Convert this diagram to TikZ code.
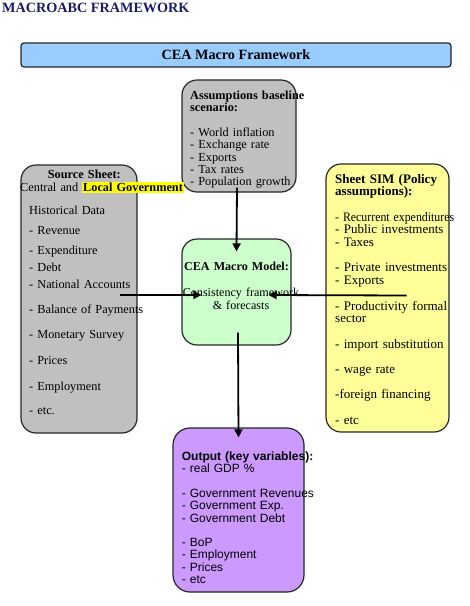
\documentclass[tikz,border=0pt]{standalone}
\usepackage{fontspec}
\setmainfont{Liberation Serif}
\newfontfamily\arialfont{Liberation Sans}
\usetikzlibrary{arrows.meta}

\definecolor{titlenavy}{HTML}{1C1C66}
\definecolor{barblue}{HTML}{99CCFF}
\definecolor{boxgray}{HTML}{C0C0C0}
\definecolor{simyellow}{HTML}{FFFF99}
\definecolor{modelgreen}{HTML}{CCFFCC}
\definecolor{outpurple}{HTML}{CC99FF}
\definecolor{markyellow}{HTML}{FFFF00}

\tikzset{
  panel/.style={draw=black!85, line width=1.2pt, rounded corners=15pt},
  paneltext/.style={anchor=base west, inner sep=0pt, text width=135pt, align=left},
  flow/.style={line width=1.8pt, -{Triangle[length=8pt, width=8pt]}}
}

\begin{document}
\begin{tikzpicture}[x=1pt, y=-1pt, node font=\fontsize{13}{12.7}\selectfont]
  \useasboundingbox (0,0) rectangle (470,606);
  % title and top bar
  \node [anchor=base west, inner sep=0pt, text=titlenavy,
         font=\bfseries\fontsize{14.2}{16}\selectfont]
    (title) at (2,12.7) {MACROABC FRAMEWORK};
  \node [panel, rounded corners=3pt, fill=barblue,
         minimum width=430pt, minimum height=24pt,
         font=\bfseries\fontsize{14.2}{16}\selectfont]
    (frame) at (236,55) {CEA Macro Framework};
  % boxes
  \node [panel, fill=boxgray, minimum width=114pt, minimum height=112pt]
    (assum) at (239,136) {};
  \node [panel, fill=boxgray, minimum width=116pt, minimum height=268pt]
    (source) at (79,299) {};
  \node [panel, fill=simyellow, minimum width=123pt, minimum height=268pt]
    (sim) at (387.5,298) {};
  \node [panel, fill=modelgreen, minimum width=109pt, minimum height=106pt]
    (model) at (236.5,292) {};
  \node [panel, rounded corners=17pt, fill=outpurple,
         minimum width=131pt, minimum height=164pt]
    (output) at (238.5,510) {};
  % texts
  \node [paneltext, font=\fontsize{12.3}{12.3}\selectfont] (assumtxt) at (190,99)
    {\textbf{Assumptions baseline}\\
     \textbf{scenario:}\\[13pt]
     - World inflation\\
     - Exchange rate\\
     - Exports\\
     - Tax rates\\
     - Population growth};
  \node [paneltext, font=\fontsize{12.3}{12.3}\selectfont] (sourcetxt) at (29,178)
    {\hspace*{18.7pt}\textbf{Source Sheet:}\\[1.5pt]
     \hspace*{-9pt}\mbox{Central and {\setlength\fboxsep{0.8pt}\colorbox{markyellow}{\textbf{Local Government}}}}\\[10.5pt]
     Historical Data\\[8pt]
     - Revenue\\[7pt]
     - Expenditure\\[4.7pt]
     - Debt\\[4.7pt]
     - National Accounts\\[12.7pt]
     - Balance of Payments\\[13.2pt]
     - Monetary Survey\\[13.2pt]
     - Prices\\[13.7pt]
     - Employment\\[12pt]
     - etc.};
  \node [paneltext] (simtxt) at (335,183)
    {\textbf{Sheet SIM (Policy}\\
     \textbf{assumptions):}\\[12.7pt]
     \scalebox{0.91}[1]{- Recurrent expenditures}\\
     - Public investments\\
     - Taxes\\[12.7pt]
     - Private investments\\
     - Exports\\[12.7pt]
     - Productivity formal\\
     sector\\[12.7pt]
     - import substitution\\[12.7pt]
     - wage rate\\[12.7pt]
     -foreign financing\\[12.7pt]
     - etc};
  \node [anchor=base, inner sep=0pt, text width=130pt, align=center,
         font=\fontsize{12.1}{12.7}\selectfont] (modeltxt) at (241,270)
    {\hspace*{-9pt}\textbf{CEA Macro Model:}\\[14pt]
     Consistency framework\\
     \& forecasts};
  \node [paneltext, font=\arialfont\fontsize{12}{12.3}\selectfont] (outputtxt) at (181.7,460.5)
    {\textbf{Output (key variables):}\\
     - real GDP \%\\[12.3pt]
     - Government Revenues\\
     - Government Exp.\\
     - Government Debt\\[12.3pt]
     - BoP\\
     - Employment\\
     - Prices\\
     - etc};
  % connectors
  \draw [flow] ([xshift=-2pt, yshift=5pt]assum.south) -- ([yshift=-13pt]model.north);
  \draw [flow] ([shift={(-18pt,4pt)}]source.east) -- ([shift={(20pt,-3pt)}]model.west);
  \draw [flow] ([shift={(-43pt,2.5pt)}]sim.east) -- ([shift={(-23pt,-3pt)}]model.east);
  \draw [flow] ([xshift=1.5pt, yshift=13pt]model.south) -- ([yshift=-10pt]output.north);
\end{tikzpicture}
\end{document}
